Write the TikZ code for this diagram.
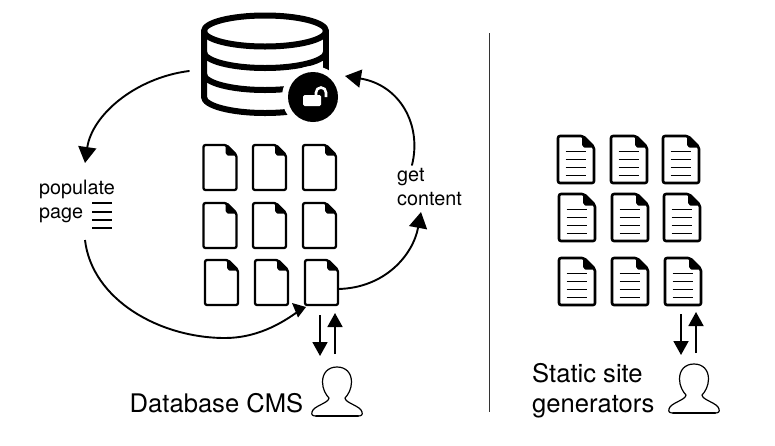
\documentclass[tikz,border=0pt]{standalone}
\usepackage{fontspec}
\setmainfont{TeX Gyre Heros}
\usetikzlibrary{arrows.meta}
\tikzset{
  x=1pt,y=-1pt,
  flow/.style={line width=1.9pt,line cap=round,-{Triangle[length=16pt,width=18pt]}},
  flowplain/.style={line width=1.9pt},
  userarrow/.style={line width=1.8pt,-{Triangle[length=14pt,width=15pt]}},
  lbl/.style={anchor=base west,inner sep=0pt,align=left},
  small/.style={lbl,font=\fontsize{19.8}{24}\selectfont},
  big/.style={lbl,font=\fontsize{25.6}{30}\selectfont},
  pics/docblank/.style={code={
    \draw[line width=2.3pt,line join=round,rounded corners=2pt,fill=white] (0,0) -- (23,0) -- (33,10) -- (33,45) -- (0,45) -- cycle;
    \fill[rounded corners=.5pt] (22,-1) -- (34,10.5) -- (24,10.5) -- (22,8) -- cycle;
    \coordinate (-east) at (33,29);
    \coordinate (-south) at (16.5,45);
  }},
  pics/doclines/.style={code={
    \draw[line width=2.6pt,line join=round,rounded corners=2pt,fill=white] (0,0) -- (25,0) -- (36,11) -- (36,47) -- (0,47) -- cycle;
    \fill[rounded corners=.5pt] (24,-1) -- (37,11.5) -- (26,11.5) -- (24,9) -- cycle;
    \foreach \yy in {15.5,23.5,31.5,39.5} \draw[line width=1.8pt] (7.5,\yy) -- (28,\yy);
  }},
  pics/person/.style={code={
    \draw[line width=1.2pt,line join=round,fill=white]
      (0,0) .. controls (-9,0) and (-14.5,6) .. (-14.5,15)
      .. controls (-14.5,22) and (-11,28) .. (-8,31)
      .. controls (-8,36) and (-24,39) .. (-25,45)
      .. controls (-26,48) and (-24,49) .. (-21,49)
      -- (21,49)
      .. controls (24,49) and (26,48) .. (25,45)
      .. controls (24,39) and (8,36) .. (8,31)
      .. controls (11,28) and (14.5,22) .. (14.5,15)
      .. controls (14.5,6) and (9,0) .. (0,0) -- cycle;
    \draw[line width=2pt,line cap=round] (-21,49) -- (21,49);
    \coordinate (-top) at (0,0);
  }}
}
\begin{document}
\begin{tikzpicture}
\useasboundingbox (0,0) rectangle (775,445);
% database
\begin{scope}[line width=6pt,line join=round]
  \draw (204,31) -- (204,97) arc[start angle=180,end angle=0,x radius=61,y radius=16];
  \draw (326,97) -- (326,31);
  \draw (204,52) arc[start angle=180,end angle=0,x radius=61,y radius=16];
  \draw (204,74) arc[start angle=180,end angle=0,x radius=61,y radius=16];
  \draw (265,31) ellipse[x radius=61,y radius=15.5];
\end{scope}
\fill[white] (313,97) circle[radius=31];
\node[circle,fill=black,minimum size=50pt,inner sep=0pt] (lock) at (313,97) {};
\fill[white,rounded corners=1.5pt] (303,95) rectangle (321,106);
\draw[white,line width=2.6pt] (316,95) -- (316,92.5) arc[start angle=180,end angle=360,radius=5] -- (326,97);
\coordinate (dbleft) at (189,71);
\coordinate (dbright) at (345,76);
% left documents
\pic (a1) at (203.5,145) {docblank};
\pic (a2) at (253,145) {docblank};
\pic (a3) at (303,145) {docblank};
\pic (b1) at (203.5,203) {docblank};
\pic (b2) at (253,203) {docblank};
\pic (b3) at (303,203) {docblank};
\pic (c1) at (205,260) {docblank};
\pic (c2) at (255,260) {docblank};
\pic (c3) at (305,260) {docblank};
% right documents
\pic (r1) at (558,136) {doclines};
\pic (r2) at (611,136) {doclines};
\pic (r3) at (663,136) {doclines};
\pic (s1) at (559,194) {doclines};
\pic (s2) at (612,194) {doclines};
\pic (s3) at (664,194) {doclines};
\pic (t1) at (559,258) {doclines};
\pic (t2) at (612,258) {doclines};
\pic (t3) at (665,258) {doclines};
% labels
\node[small] (populate) at (39,194) {populate};
\node[small] (page) at (39,218) {page};
\node[small] (get) at (397,181) {get};
\node[small] (content) at (397,205) {content};
\node[big] (dbcms) at (129.5,412) {Database CMS};
\node[big] (static) at (532,382) {Static site};
\node[big] (gens) at (532,412) {generators};
% page lines
\foreach \yy in {203,212,220,228} \draw[line width=1.9pt] (92,\yy) -- (112,\yy);
% people
\pic (u1) at (337,367) {person};
\pic (u2) at (694,364) {person};
% cycle
\coordinate (popin) at (85,163);
\coordinate (popout) at (85,240);
\coordinate (getin) at (421,212);
\coordinate (getout) at (412,165);
\draw[flow] (dbleft) .. controls (135,78) and (92,115) .. (popin);
\draw[flowplain] (popout) .. controls (92,300) and (160,338) .. (225,338) .. controls (255,338) and (280,325) .. (300,310);
\fill (292,303) -- (306,307) -- (298,317.5) -- cycle;
\draw[flow] (c3-east) .. controls (385,288) and (413,255) .. (getin);
\draw[flow] (getout) .. controls (422,125) and (400,85) .. (dbright);
% user arrows
\coordinate (ua) at (320,315); \coordinate (ub) at (320,356);
\coordinate (uc) at (335,354); \coordinate (ud) at (335,313);
\coordinate (va) at (681,314); \coordinate (vb) at (681,355);
\coordinate (vc) at (696,353); \coordinate (vd) at (696,312);
\draw[userarrow] (ua) -- (ub);
\draw[userarrow] (uc) -- (ud);
\draw[userarrow] (va) -- (vb);
\draw[userarrow] (vc) -- (vd);
% divider
\coordinate (d1) at (489.5,33); \coordinate (d2) at (489.5,412);
\draw[line width=1pt,black!80] (d1) -- (d2);
\end{tikzpicture}
\end{document}
